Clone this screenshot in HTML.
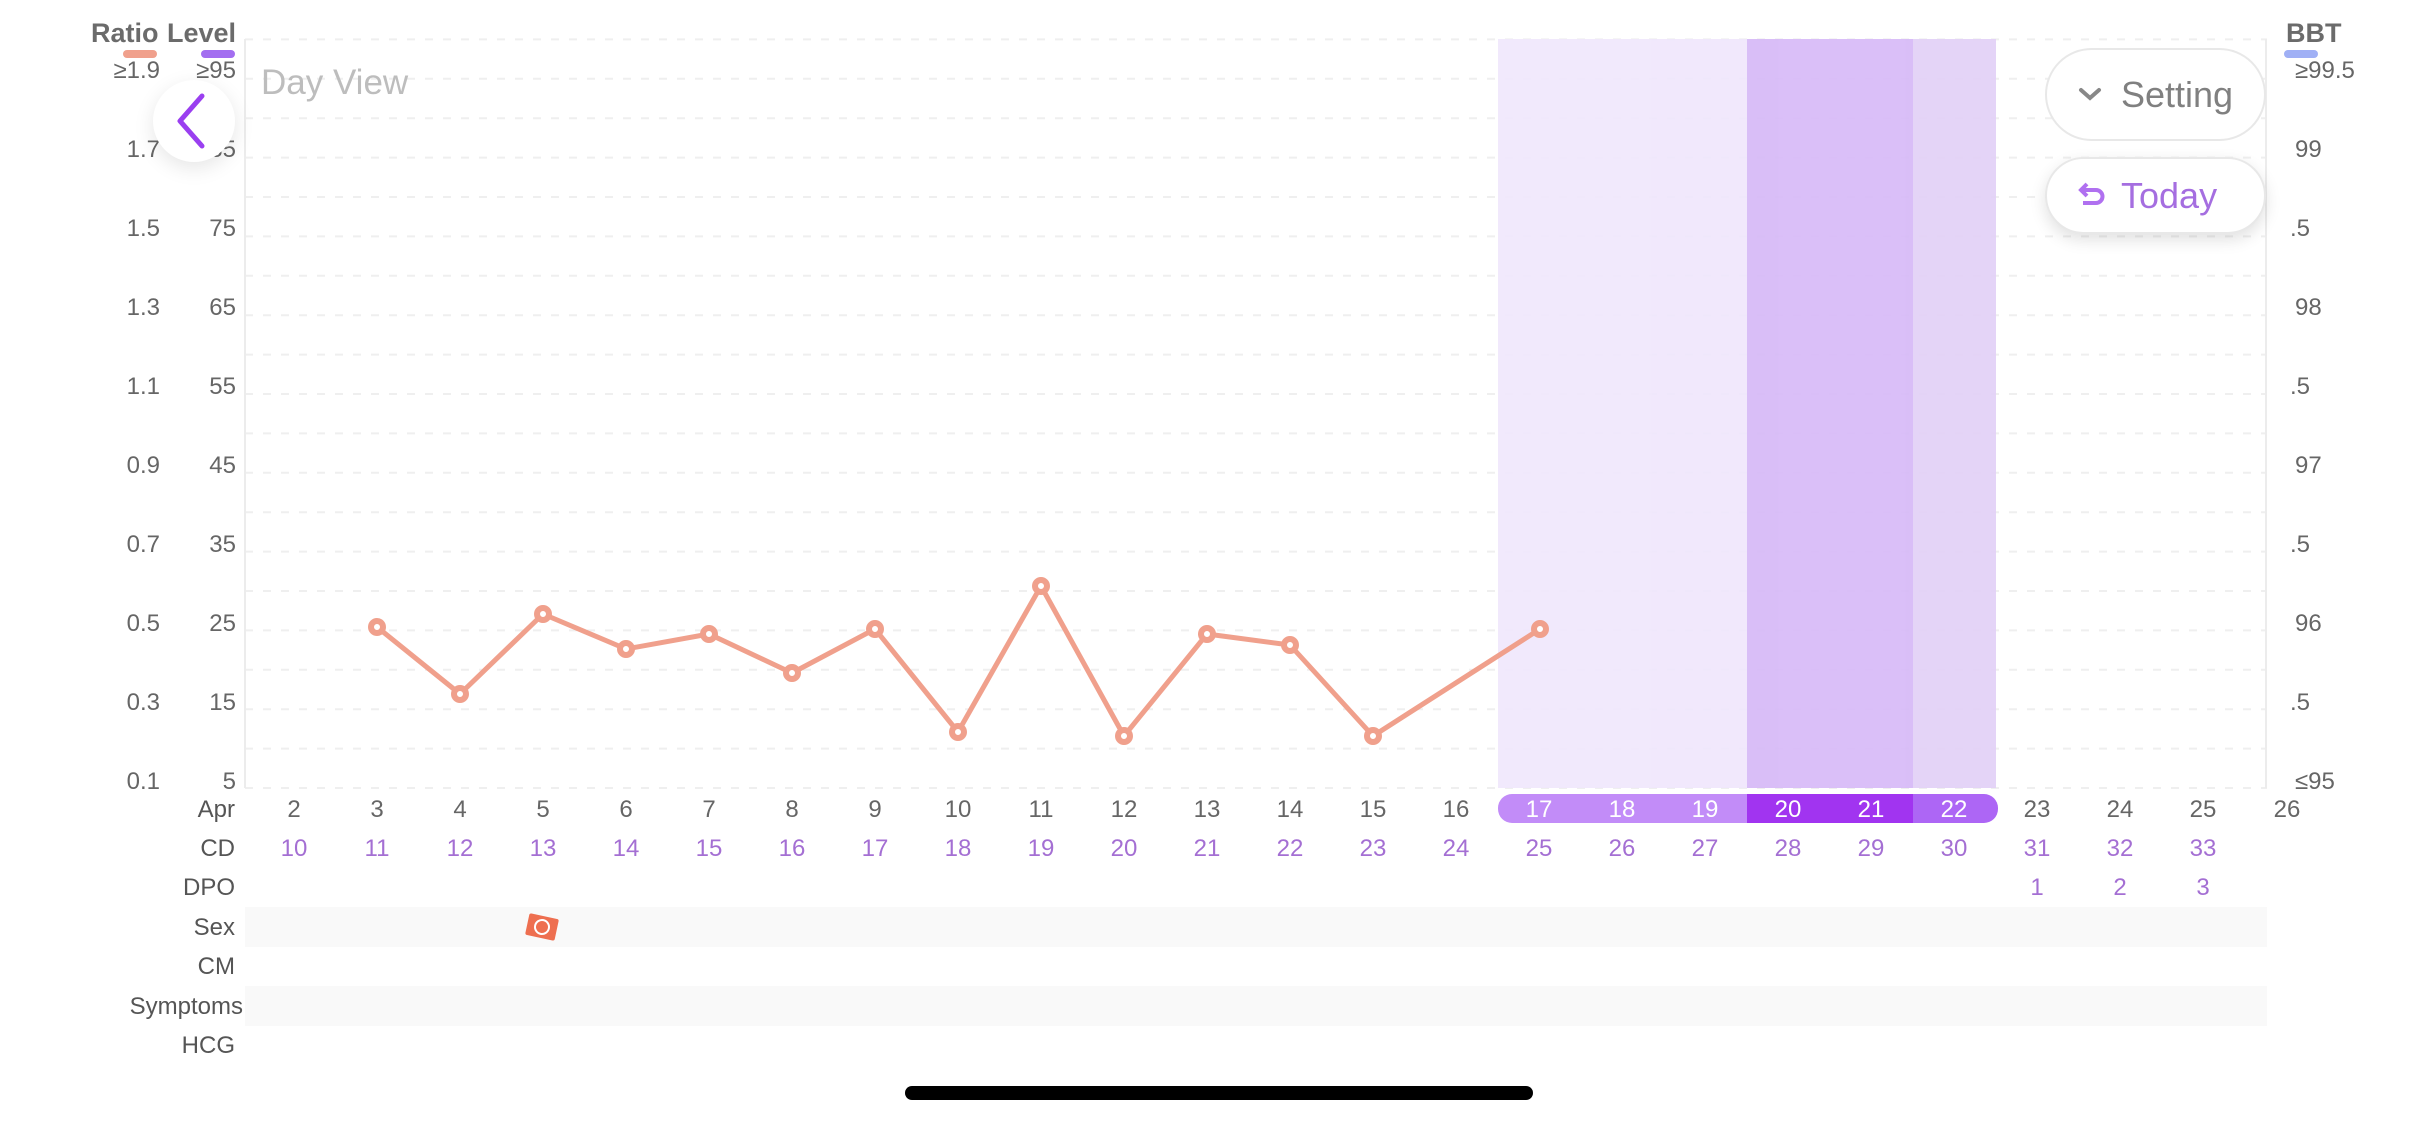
<!DOCTYPE html>
<html><head><meta charset="utf-8"><style>
html,body{margin:0;padding:0;background:#fff;}
body{width:2436px;height:1125px;overflow:hidden;position:relative;font-family:"Liberation Sans",sans-serif;}
svg text{font-family:"Liberation Sans",sans-serif;}
.btn{position:absolute;background:#fff;border:2px solid #e8e8e8;border-radius:48px;box-sizing:border-box;font-size:36px;display:flex;align-items:center;}
</style></head><body>
<svg width="2436" height="1125" style="position:absolute;left:0;top:0">
<rect x="245" y="907" width="2022" height="40" fill="#f9f9f9"/>
<rect x="245" y="986" width="2022" height="40" fill="#f9f9f9"/>
<g stroke="#efefef" stroke-width="2" stroke-dasharray="8 10">
<line x1="245" x2="2267" y1="39.4" y2="39.4"/><line x1="245" x2="2267" y1="78.8" y2="78.8"/><line x1="245" x2="2267" y1="118.2" y2="118.2"/><line x1="245" x2="2267" y1="157.6" y2="157.6"/><line x1="245" x2="2267" y1="197" y2="197"/><line x1="245" x2="2267" y1="236.4" y2="236.4"/><line x1="245" x2="2267" y1="275.8" y2="275.8"/><line x1="245" x2="2267" y1="315.2" y2="315.2"/><line x1="245" x2="2267" y1="354.6" y2="354.6"/><line x1="245" x2="2267" y1="394" y2="394"/><line x1="245" x2="2267" y1="433.4" y2="433.4"/><line x1="245" x2="2267" y1="472.8" y2="472.8"/><line x1="245" x2="2267" y1="512.2" y2="512.2"/><line x1="245" x2="2267" y1="551.6" y2="551.6"/><line x1="245" x2="2267" y1="591" y2="591"/><line x1="245" x2="2267" y1="630.4" y2="630.4"/><line x1="245" x2="2267" y1="669.8" y2="669.8"/><line x1="245" x2="2267" y1="709.2" y2="709.2"/><line x1="245" x2="2267" y1="748.6" y2="748.6"/><line x1="245" x2="2267" y1="788" y2="788"/>
</g>
<g opacity="0.93">
<rect x="1498" y="39" width="249" height="749" fill="#f0e7fc"/>
<rect x="1747" y="39" width="166" height="749" fill="#d7baf7"/>
<rect x="1913" y="39" width="83" height="749" fill="#e3d1f7"/>
</g>
<line x1="245" x2="245" y1="39" y2="788" stroke="#ececec" stroke-width="2"/>
<line x1="2266" x2="2266" y1="39" y2="788" stroke="#ececec" stroke-width="2"/>
<text x="91" y="42" font-size="27" font-weight="bold" fill="#6b6b6b">Ratio</text>
<text x="167" y="42" font-size="27" font-weight="bold" fill="#6b6b6b">Level</text>
<rect x="123" y="50" width="34" height="8" rx="4" fill="#f0a08c"/>
<rect x="201" y="50" width="34" height="8" rx="4" fill="#a36ef0"/>
<text x="2286" y="42" font-size="27" font-weight="bold" fill="#6b6b6b">BBT</text>
<rect x="2284" y="50" width="34" height="8" rx="4" fill="#a0b0f5"/>
<g font-size="24" fill="#666" text-anchor="end">
<text x="160" y="78">≥1.9</text><text x="236" y="78">≥95</text>
<text x="160" y="157">1.7</text><text x="236" y="157">85</text>
<text x="160" y="236">1.5</text><text x="236" y="236">75</text>
<text x="160" y="315">1.3</text><text x="236" y="315">65</text>
<text x="160" y="394">1.1</text><text x="236" y="394">55</text>
<text x="160" y="473">0.9</text><text x="236" y="473">45</text>
<text x="160" y="552">0.7</text><text x="236" y="552">35</text>
<text x="160" y="631">0.5</text><text x="236" y="631">25</text>
<text x="160" y="710">0.3</text><text x="236" y="710">15</text>
<text x="160" y="789">0.1</text><text x="236" y="789">5</text>
</g>
<g font-size="24" fill="#666">
<text x="2295" y="78">≥99.5</text><text x="2295" y="157">99</text><text x="2290" y="236">.5</text><text x="2295" y="315">98</text><text x="2290" y="394">.5</text><text x="2295" y="473">97</text><text x="2290" y="552">.5</text><text x="2295" y="631">96</text><text x="2290" y="710">.5</text><text x="2295" y="789">≤95</text>
</g>
<polyline fill="none" stroke="#f0a08c" stroke-width="5" stroke-linejoin="round" points="377,627 460,694 543,614 626,649 709,634 792,673 875,629 958,732 1041,586 1124,736 1207,634 1290,645 1373,736 1540,629"/>
<g fill="#fff" stroke="#f0a08c" stroke-width="6">
<circle cx="377" cy="627" r="6"/><circle cx="460" cy="694" r="6"/><circle cx="543" cy="614" r="6"/><circle cx="626" cy="649" r="6"/><circle cx="709" cy="634" r="6"/><circle cx="792" cy="673" r="6"/><circle cx="875" cy="629" r="6"/><circle cx="958" cy="732" r="6"/><circle cx="1041" cy="586" r="6"/><circle cx="1124" cy="736" r="6"/><circle cx="1207" cy="634" r="6"/><circle cx="1290" cy="645" r="6"/><circle cx="1373" cy="736" r="6"/><circle cx="1540" cy="629" r="6"/>
</g>
<clipPath id="pc"><rect x="1498" y="794" width="500" height="29" rx="14"/></clipPath>
<g clip-path="url(#pc)">
<rect x="1498" y="794" width="249" height="29" fill="#c28cf8"/>
<rect x="1747" y="794" width="166" height="29" fill="#a134f0"/>
<rect x="1913" y="794" width="90" height="29" fill="#ad66f5"/>
</g>
<g font-size="24" fill="#555" text-anchor="end">
<text x="235" y="817">Apr</text><text x="235" y="856">CD</text><text x="235" y="895">DPO</text><text x="235" y="935">Sex</text><text x="235" y="974">CM</text><text x="243" y="1014">Symptoms</text><text x="235" y="1053">HCG</text>
</g>
<g font-size="24" fill="#666" text-anchor="middle">
<text x="294" y="817">2</text><text x="377" y="817">3</text><text x="460" y="817">4</text><text x="543" y="817">5</text><text x="626" y="817">6</text><text x="709" y="817">7</text><text x="792" y="817">8</text><text x="875" y="817">9</text><text x="958" y="817">10</text><text x="1041" y="817">11</text><text x="1124" y="817">12</text><text x="1207" y="817">13</text><text x="1290" y="817">14</text><text x="1373" y="817">15</text><text x="1456" y="817">16</text>
<text x="1539" y="817" fill="#fff">17</text><text x="1622" y="817" fill="#fff">18</text><text x="1705" y="817" fill="#fff">19</text><text x="1788" y="817" fill="#fff">20</text><text x="1871" y="817" fill="#fff">21</text><text x="1954" y="817" fill="#fff">22</text>
<text x="2037" y="817">23</text><text x="2120" y="817">24</text><text x="2203" y="817">25</text><text x="2287" y="817">26</text>
</g>
<g font-size="24" fill="#a46fd3" text-anchor="middle">
<text x="294" y="856">10</text><text x="377" y="856">11</text><text x="460" y="856">12</text><text x="543" y="856">13</text><text x="626" y="856">14</text><text x="709" y="856">15</text><text x="792" y="856">16</text><text x="875" y="856">17</text><text x="958" y="856">18</text><text x="1041" y="856">19</text><text x="1124" y="856">20</text><text x="1207" y="856">21</text><text x="1290" y="856">22</text><text x="1373" y="856">23</text><text x="1456" y="856">24</text><text x="1539" y="856">25</text><text x="1622" y="856">26</text><text x="1705" y="856">27</text><text x="1788" y="856">28</text><text x="1871" y="856">29</text><text x="1954" y="856">30</text><text x="2037" y="856">31</text><text x="2120" y="856">32</text><text x="2203" y="856">33</text>
<text x="2037" y="895">1</text><text x="2120" y="895">2</text><text x="2203" y="895">3</text>
</g>
<g transform="translate(542,927) rotate(12)">
<rect x="-15" y="-11" width="30" height="22" rx="2" fill="#ee6f50"/>
<circle cx="0" cy="0" r="7" fill="none" stroke="#fff" stroke-width="2"/>
</g>
<rect x="905" y="1086" width="628" height="14" rx="7" fill="#000"/>
</svg>
<div style="position:absolute;left:153px;top:80px;width:82px;height:82px;border-radius:50%;background:#fff;box-shadow:0 6px 20px rgba(0,0,0,0.10);"></div>
<svg width="2436" height="200" style="position:absolute;left:0;top:0">
<polyline points="202,96 180,121 202,146" fill="none" stroke="#9a3ff0" stroke-width="5" stroke-linecap="round" stroke-linejoin="round"/>
<text x="261" y="94" font-size="35" fill="#bdbdbd">Day View</text>
</svg>
<div class="btn" style="left:2045px;top:48px;width:221px;height:93px;color:#808080;">
<svg width="30" height="20" style="margin-left:30px;margin-right:14px"><polyline points="4,5 13,13 22,5" fill="none" stroke="#888" stroke-width="4" stroke-linecap="round"/></svg>Setting</div>
<div class="btn" style="left:2045px;top:157px;width:221px;height:77px;color:#a56ee0;box-shadow:0 6px 16px rgba(0,0,0,0.12);">
<svg width="30" height="30" style="margin-left:30px;margin-right:14px"><path d="M6 9 H19 a6 6 0 0 1 0 13 H6" fill="none" stroke="#b070f0" stroke-width="4"/><polyline points="10,3 4,9 10,15" fill="none" stroke="#b070f0" stroke-width="4"/></svg>Today</div>
</body></html>
